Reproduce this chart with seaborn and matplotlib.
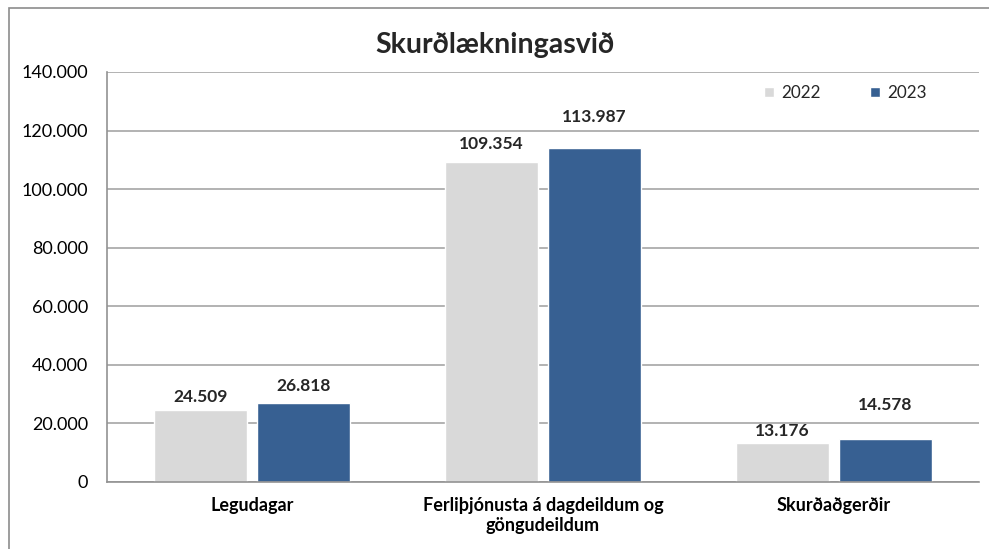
import matplotlib
matplotlib.use("Agg")
import matplotlib.pyplot as plt
import seaborn as sns
import pandas as pd
from matplotlib.patches import Rectangle
from matplotlib.ticker import FuncFormatter

categories = ["Legudagar", "Ferliþjónusta á dagdeildum og\ngöngudeildum", "Skurðaðgerðir"]
years = ["2022", "2023"]
values_2022 = [24509, 109354, 13176]
values_2023 = [26818, 113987, 14578]
yticks = [0, 20000, 40000, 60000, 80000, 100000, 120000, 140000]

df = pd.DataFrame({
    "cat": categories * 2,
    "year": [years[0]] * 3 + [years[1]] * 3,
    "val": values_2022 + values_2023,
})

sns.set_theme(style="white")
plt.rcParams["font.family"] = ["Lato", "DejaVu Sans"]

fig = plt.figure(figsize=(9.89, 5.49), dpi=100)
ax = fig.add_axes([107/989, 67/549, (979-107)/989, (482-72)/549])

palette = {"2022": "#D9D9D9", "2023": "#376092"}
sns.barplot(data=df, x="cat", y="val", hue="year", palette=palette, ax=ax,
            width=0.709, gap=0.097, saturation=1, order=categories, hue_order=years)

ax.set_ylim(0, 140000)
ax.set_yticks(yticks)
ax.yaxis.set_major_formatter(FuncFormatter(lambda v, p: f"{int(v):,}".replace(",", ".")))
ax.grid(axis="y", color="#A6A6A6", linewidth=1.2)
ax.set_axisbelow(True)
for s in ["top", "right"]:
    ax.spines[s].set_visible(False)
for s in ["left", "bottom"]:
    ax.spines[s].set_color("#929292")
    ax.spines[s].set_linewidth(1.2)
ax.tick_params(axis="y", length=0, labelsize=13, pad=13.5, colors="black")
ax.tick_params(axis="x", length=0, labelsize=13, pad=11, colors="black")
for t in ax.get_xticklabels():
    t.set_fontweight("bold")
ax.set_xlabel("")
ax.set_ylabel("")

# data labels (label padding in points, per series)
label_pad = [[4, 7, 3], [7, 17, 19]]
for ci, cont in enumerate(ax.containers):
    for bi, bar in enumerate(cont):
        h = bar.get_height()
        ax.annotate(f"{int(h):,}".replace(",", "."),
                    (bar.get_x() + bar.get_width() / 2, h),
                    xytext=(0, label_pad[ci][bi]), textcoords="offset points",
                    ha="center", va="bottom", fontsize=12.5, fontweight="bold")

leg = ax.legend(loc="center left", bbox_to_anchor=(764/989, 1 - 93/549),
                bbox_transform=fig.transFigure, ncol=2, frameon=False,
                handlelength=0.6, handleheight=0.6, handletextpad=0.4,
                columnspacing=2.9, fontsize=12.3, borderaxespad=0, borderpad=0)

fig.text(495/989, 1 - 45/549, "Skurðlækningasvið", ha="center", va="center",
         fontsize=20.5, fontweight="bold")

fig.patches.append(Rectangle((9/989, -0.05), 1.2, 1 - 8/549 + 0.05, transform=fig.transFigure,
                             fill=False, edgecolor="#8C8C8C", linewidth=1.2))

fig.savefig("out.png", dpi=100)
